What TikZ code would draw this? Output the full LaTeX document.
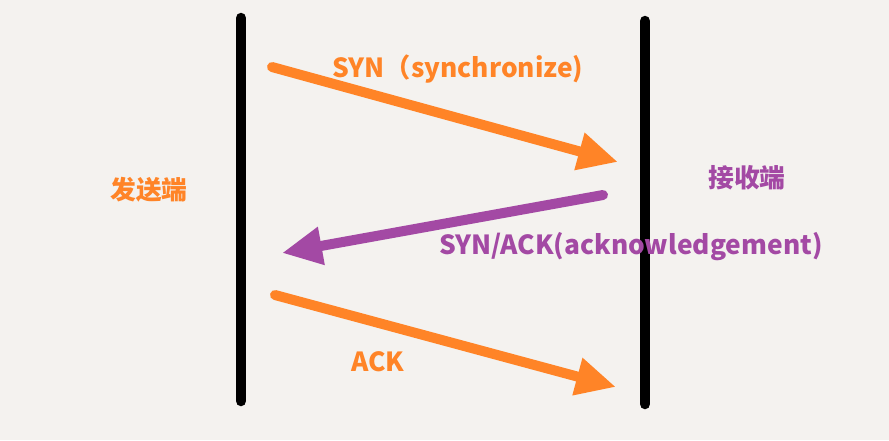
\documentclass[tikz,border=0pt]{standalone}
\usepackage{fontspec}
\setmainfont{Noto Sans CJK SC}
\usetikzlibrary{arrows.meta}
\definecolor{bg}{HTML}{F4F2EF}
\definecolor{org}{HTML}{FF8427}
\definecolor{pur}{HTML}{A349A4}
\tikzset{
  lifeline/.style={line width=10.5pt, line cap=round, black},
  msg/.style={line width=10pt, line cap=round, -{Triangle[length=40pt,width=36pt]}},
  lbl/.style={font=\bfseries\fontsize{26.3}{30}\selectfont, inner sep=0pt},
  cjklbl/.style={font=\bfseries\fontsize{25.8}{30}\selectfont, inner sep=0pt}
}
\begin{document}
\begin{tikzpicture}[x=1pt,y=-1pt]
\fill[bg] (0,0) rectangle (889,440);
\useasboundingbox (0,0) rectangle (889,440);
\coordinate (L1) at (241,18);
\coordinate (L2) at (241,401);
\coordinate (R1) at (645,21);
\coordinate (R2) at (645,404);
\draw[lifeline] (L1) -- (L2);
\draw[lifeline] (R1) -- (R2);
\coordinate (a1s) at (272,67);
\coordinate (a1e) at (618,162);
\coordinate (a2s) at (603,195);
\coordinate (a2e) at (282,253);
\coordinate (a3s) at (275,295);
\coordinate (a3e) at (616,387);
\draw[msg, org] (a1s) -- (a1e);
\draw[msg, pur] (a2s) -- (a2e);
\draw[msg, org] (a3s) -- (a3e);
\node[lbl, text=org] (t1) at (458,69) {SYN（synchronize)};
\node[lbl, text=pur] (t2) at (631,247) {SYN/ACK(acknowledgement)};
\node[lbl, text=org] (t3) at (378,362) {ACK};
\node[cjklbl, text=org] (t4) at (149,190) {发送端};
\node[cjklbl, text=pur] (t5) at (747,178) {接收端};
\end{tikzpicture}
\end{document}
